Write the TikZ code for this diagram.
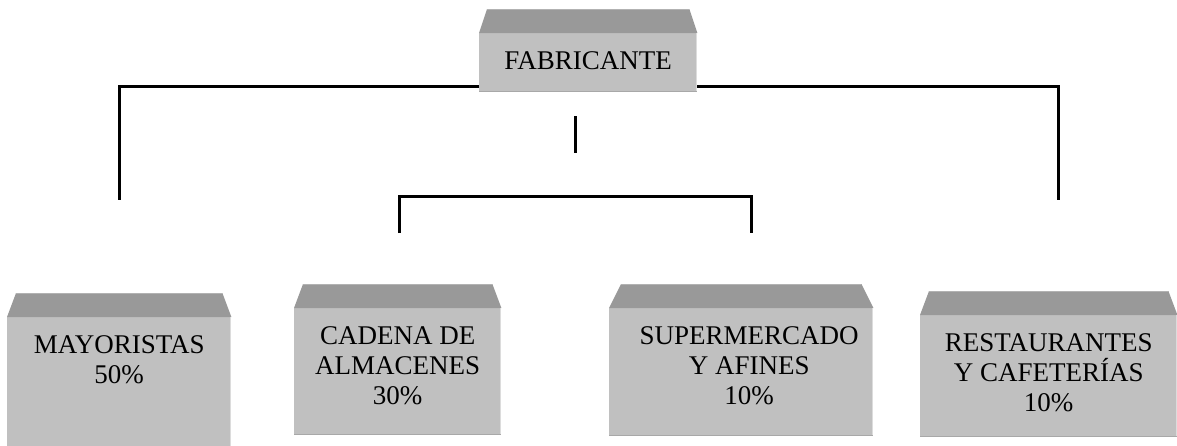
\documentclass[tikz,border=0pt]{standalone}
\usepackage{fontspec}
\setmainfont{Liberation Serif}
\definecolor{frontc}{HTML}{C0C0C0}
\definecolor{topc}{HTML}{999999}
\definecolor{topedge}{HTML}{B2B2B2}
\definecolor{lightedge}{HTML}{DCDCDC}
\definecolor{darkedge}{HTML}{A8A8A8}
\newcommand{\boxtop}[2]{%
  \fill[topc] ([xshift=#2pt,yshift=24pt]#1.north west) -- ([xshift=-#2pt,yshift=24pt]#1.north east) -- (#1.north east) -- (#1.north west) -- cycle;
  \draw[topedge,line width=1pt] ([xshift=#2pt,yshift=23.5pt]#1.north west) -- ([xshift=-#2pt,yshift=23.5pt]#1.north east);
  \draw[lightedge,line width=1.5pt] ([xshift=-0.75pt]#1.north east) -- ([xshift=-0.75pt]#1.south east);
  \draw[darkedge,line width=1.5pt] ([yshift=0.75pt]#1.south west) -- ([yshift=0.75pt]#1.south east);
}
\begin{document}
\begin{tikzpicture}[x=1pt,y=-1pt,
  front/.style={rectangle,fill=frontc,inner sep=0pt,anchor=north west},
  lbl/.style={anchor=north,yshift=-18pt,inner sep=0pt,align=center,font=\fontsize{27pt}{30pt}\selectfont,label distance=0pt},
  conn/.style={line width=3pt,black,line join=miter}]
\useasboundingbox (0,0) rectangle (1177,445);
% boxes
\node[front,minimum width=218pt,minimum height=59pt,label={[lbl]north:FABRICANTE}] (fab) at (479,33) {};
\node[front,minimum width=224pt,minimum height=130pt,label={[lbl]north:MAYORISTAS\\50\%}] (may) at (7,317) {};
\node[front,minimum width=207pt,minimum height=127pt,label={[lbl]north:CADENA DE\\ALMACENES\\30\%}] (cad) at (294,308) {};
\node[front,minimum width=264pt,minimum height=128pt,label={[lbl,xshift=8pt]north:SUPERMERCADO\\Y AFINES\\10\%}] (sup) at (609,308) {};
\node[front,minimum width=257pt,minimum height=122pt,label={[lbl]north:RESTAURANTES\\Y CAFETERÍAS\\10\%}] (res) at (920,315) {};
\boxtop{fab}{8}
\boxtop{may}{9}
\boxtop{cad}{9}
\boxtop{sup}{12}
\boxtop{res}{9}
% free ends of connectors
\coordinate (mayT) at (119,200);
\coordinate (resT) at (1058,200);
\coordinate (midA) at (575,116);
\coordinate (midB) at (575,153);
\coordinate (cadT) at (399,233);
\coordinate (midC) at (575,196);
\coordinate (supT) at (751,233);
% connectors
\draw[conn] ([yshift=6pt]fab.south west) -| (mayT);
\draw[conn] ([yshift=6pt]fab.south east) -| (resT);
\draw[conn] (midA) -- (midB);
\draw[conn] (cadT) |- (midC) -| (supT);
\end{tikzpicture}
\end{document}
